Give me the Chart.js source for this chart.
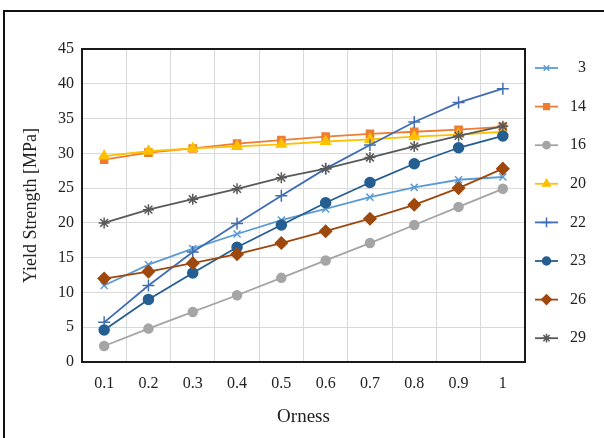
<!DOCTYPE html>
<html>
<head>
<meta charset="utf-8">
<script src="https://cdn.jsdelivr.net/npm/chart.js@4/dist/chart.umd.min.js"></script>
<style>
  html, body { margin: 0; padding: 0; background: #fff; overflow: hidden; }
  #wrap { position: relative; width: 604px; height: 438px; }
  #frame { position: absolute; left: 3px; top: 10px; width: 700px; height: 500px;
           border-left: 2px solid #111; border-top: 2px solid #111; }
  canvas { position: absolute; left: 0; top: 0; }
</style>
</head>
<body>
<div id="wrap">
  <div id="frame"></div>
  <canvas id="chart" width="604" height="438"></canvas>
</div>
<script>
const orness = ['0.1', '0.2', '0.3', '0.4', '0.5', '0.6', '0.7', '0.8', '0.9', '1'];
const yTicks = [0, 5, 10, 15, 20, 25, 30, 35, 40, 45];

const s3  = [11.0, 14.0, 16.3, 18.4, 20.4, 22.0, 23.7, 25.1, 26.2, 26.6];
const s14 = [29.1, 30.1, 30.7, 31.4, 31.9, 32.4, 32.8, 33.1, 33.4, 33.8];
const s16 = [2.3, 4.8, 7.2, 9.6, 12.1, 14.6, 17.1, 19.7, 22.3, 24.9];
const s20 = [29.6, 30.3, 30.7, 31.0, 31.3, 31.7, 32.0, 32.4, 32.7, 33.1];
const s22 = [5.7, 11.0, 15.8, 19.9, 23.9, 27.8, 31.2, 34.5, 37.3, 39.3];
const s23 = [4.6, 9.0, 12.8, 16.5, 19.7, 22.9, 25.8, 28.5, 30.8, 32.5];
const s26 = [12.0, 13.0, 14.2, 15.5, 17.1, 18.8, 20.6, 22.6, 25.0, 27.8];
const s29 = [20.0, 21.9, 23.4, 24.9, 26.5, 27.8, 29.4, 31.0, 32.5, 33.9];

const seriesNames = ['3', '14', '16', '20', '22', '23', '26', '29'];
const seriesData = [s3, s14, s16, s20, s22, s23, s26, s29];
const colors = ['#5B9BD5', '#ED7D31', '#A5A5A5', '#FFC000', '#3F6DB5', '#255E91', '#9E480E', '#595959'];
const markers = ['crossRot', 'rect', 'circle', 'triangle', 'cross', 'circle', 'rectRot', 'star'];
const markerSize = [5, 5, 4.5, 5.5, 6, 5, 6, 5.5];

const FONT = '"Liberation Serif", "DejaVu Serif", serif';

const datasets = seriesData.map((d, i) => ({
  label: seriesNames[i],
  data: d,
  borderColor: colors[i],
  backgroundColor: colors[i],
  borderWidth: 1.8,
  pointStyle: markers[i],
  pointRadius: markerSize[i],
  pointBorderWidth: 1.5,
  pointBorderColor: colors[i],
  pointBackgroundColor: colors[i],
  tension: 0,
  order: seriesNames.length - i   // later series sit on top
}));

// dark frame around the plot area
const plotFrame = {
  id: 'plotFrame',
  afterDatasetsDraw(chart) {
    const a = chart.chartArea;
    const ctx = chart.ctx;
    ctx.save();
    ctx.strokeStyle = '#1a1a1a';
    ctx.lineWidth = 2;
    ctx.strokeRect(a.left, a.top, a.right - a.left, a.bottom - a.top);
    ctx.restore();
  }
};

// legend on the right: short line with the marker, label after it
const sideLegend = {
  id: 'sideLegend',
  afterDraw(chart) {
    const ctx = chart.ctx;
    const y0 = 68, gap = 38.6;
    ctx.save();
    seriesNames.forEach((name, i) => {
      const y = y0 + i * gap;
      ctx.strokeStyle = colors[i];
      ctx.fillStyle = colors[i];
      ctx.lineWidth = 1.8;
      ctx.beginPath();
      ctx.moveTo(535, y);
      ctx.lineTo(558, y);
      ctx.stroke();
      ctx.lineWidth = 1.5;
      Chart.helpers.drawPoint(ctx, { pointStyle: markers[i], radius: markerSize[i] * 0.8, borderWidth: 1.5 }, 546.5, y);
      ctx.fillStyle = '#222';
      ctx.font = '16px ' + FONT;
      ctx.textAlign = 'right';
      ctx.textBaseline = 'middle';
      ctx.fillText(name, 586, y);
    });
    ctx.restore();
  }
};

new Chart(document.getElementById('chart'), {
  type: 'line',
  data: { labels: orness, datasets: datasets },
  options: {
    responsive: false,
    animation: false,
    layout: { padding: { left: 0, top: 49, right: 79, bottom: 0 } },
    plugins: {
      legend: { display: false },
      tooltip: { enabled: false }
    },
    scales: {
      x: {
        type: 'category',
        offset: true,
        grid: { offset: true, color: '#d9d9d9', lineWidth: 1, drawTicks: false },
        border: { display: false },
        ticks: { color: '#222', font: { family: FONT, size: 16 }, padding: 12, maxRotation: 0 },
        title: { display: true, text: 'Orness', color: '#222', font: { family: FONT, size: 19 }, padding: { top: 0, bottom: 10 } },
        afterFit(scale) { scale.height = 76; }
      },
      y: {
        min: 0,
        max: 45,
        afterBuildTicks(scale) { scale.ticks = yTicks.map(v => ({ value: v })); },
        grid: { color: '#d9d9d9', lineWidth: 1, drawTicks: false },
        border: { display: false },
        ticks: { color: '#222', font: { family: FONT, size: 16 }, padding: 8 },
        title: { display: true, text: 'Yield Strength [MPa]', color: '#222', font: { family: FONT, size: 18 }, padding: { top: 20, bottom: 0 } },
        afterFit(scale) { scale.width = 82; }
      }
    }
  },
  plugins: [plotFrame, sideLegend]
});
</script>
</body>
</html>
